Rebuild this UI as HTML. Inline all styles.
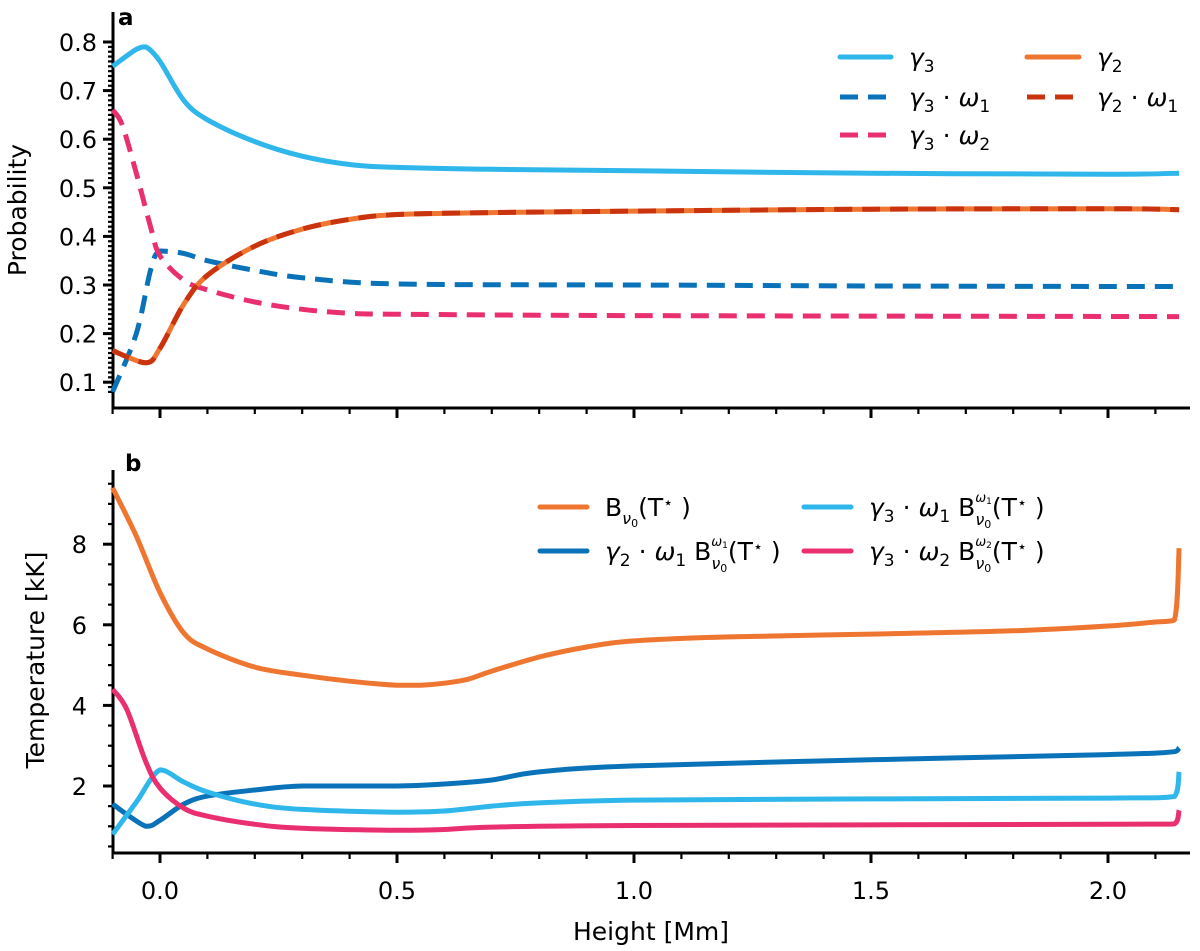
<!DOCTYPE html>
<html><head><meta charset="utf-8"><style>
body{margin:0;background:#fff}
svg{display:block;font-family:"DejaVu Sans","Liberation Sans",sans-serif}
</style></head><body>
<svg id="c" width="1200" height="951" viewBox="0 0 1200 951" xmlns="http://www.w3.org/2000/svg">
<g id="g"></g>
</svg>
<script>
// ---- data ----
const hA = [-0.1,-0.05,-0.03,0,0.05,0.1,0.2,0.3,0.4,0.5,0.7,1.0,1.5,2.0,2.15];
const gamma3 = [0.75,0.785,0.79,0.76,0.68,0.64,0.595,0.565,0.548,0.542,0.538,0.535,0.53,0.528,0.53];
const hB = [-0.1,-0.05,-0.02,0,0.05,0.1,0.2,0.3,0.5,1.0,1.5,2.0,2.15];
const g3w1 = [0.08,0.2,0.33,0.37,0.365,0.35,0.33,0.315,0.302,0.3,0.298,0.297,0.297];
const hC = [-0.1,-0.08,-0.05,-0.02,0,0.05,0.1,0.2,0.3,0.4,0.5,1.0,2.15];
const g3w2 = [0.66,0.63,0.53,0.42,0.36,0.31,0.29,0.265,0.25,0.242,0.24,0.237,0.235];
const hD = [-0.1,-0.03,0,0.05,0.1,0.2,0.3,0.4,0.5,0.7,1.0,1.5,2.0,2.15];
const gamma2 = [0.165,0.14,0.17,0.26,0.32,0.38,0.415,0.435,0.445,0.449,0.452,0.456,0.457,0.455];

const hE = [-0.1,-0.05,0,0.05,0.1,0.2,0.3,0.4,0.5,0.55,0.6,0.65,0.7,0.8,0.9,1.0,1.2,1.5,1.8,2.0,2.1,2.14,2.15];
const bT = [9.4,8.2,6.8,5.8,5.4,4.95,4.75,4.6,4.5,4.5,4.55,4.65,4.85,5.2,5.45,5.6,5.7,5.77,5.85,5.97,6.07,6.12,7.9];
const hF = [-0.1,-0.03,0,0.05,0.1,0.2,0.3,0.5,0.6,0.7,0.8,1.0,1.5,2.0,2.14,2.15];
const b21 = [1.55,1.0,1.15,1.55,1.75,1.9,2.0,2.0,2.05,2.15,2.35,2.5,2.65,2.78,2.85,2.95];
const hG = [-0.1,-0.05,0,0.05,0.1,0.2,0.3,0.5,0.6,0.7,0.8,1.0,1.5,2.0,2.14,2.15];
const b31 = [0.8,1.6,2.4,2.1,1.85,1.55,1.42,1.35,1.38,1.5,1.58,1.65,1.68,1.7,1.74,2.35];
const hH = [-0.1,-0.07,-0.03,0,0.05,0.1,0.2,0.3,0.5,0.6,0.7,1.0,2.0,2.14,2.15];
const b32 = [4.4,3.9,2.6,1.95,1.45,1.25,1.05,0.95,0.9,0.92,0.98,1.02,1.05,1.06,1.4];

const xTicks = [0.0,0.5,1.0,1.5,2.0];
const yTicksA = [0.1,0.2,0.3,0.4,0.5,0.6,0.7,0.8];
const yTicksB = [2,4,6,8];

// ---- axes ----
const X0=113, X1=1190;
const xs = h => 160 + h*474;
const ysA = p => 42 + (0.8-p)*486;
const ysB = t => 786 - (t-2)*40.3;
const AT=12, AB=408, BT=470, BB=853;

const NS="http://www.w3.org/2000/svg";
const g=document.getElementById('g');
function el(tag,attrs,parent){const e=document.createElementNS(NS,tag);for(const k in attrs)e.setAttribute(k,attrs[k]);(parent||g).appendChild(e);return e;}
function txt(s,x,y,attrs){const e=el('text',Object.assign({x:x,y:y,'font-size':24,fill:'#000'},attrs||{}));e.textContent=s;return e;}

function clamp(v,a,b){const lo=Math.min(a,b),hi=Math.max(a,b);return Math.min(Math.max(v,lo),hi);}
function path(xsArr,ysArr,ymap){
  const P=xsArr.map((h,i)=>[xs(h),ymap(ysArr[i])]);
  let d='M'+P[0][0].toFixed(1)+','+P[0][1].toFixed(1);
  for(let i=0;i<P.length-1;i++){
    const p0=P[Math.max(0,i-1)],p1=P[i],p2=P[i+1],p3=P[Math.min(P.length-1,i+2)];
    const t=1/6;
    const c1=[p1[0]+(p2[0]-p0[0])*t,p1[1]+(p2[1]-p0[1])*t];
    const c2=[p2[0]-(p3[0]-p1[0])*t,p2[1]-(p3[1]-p1[1])*t];
    c1[0]=clamp(c1[0],p1[0],p2[0]); c2[0]=clamp(c2[0],p1[0],p2[0]);
    c1[1]=clamp(c1[1],p1[1],p2[1]); c2[1]=clamp(c2[1],p1[1],p2[1]);
    d+=' C'+c1.map(v=>v.toFixed(1)).join(',')+' '+c2.map(v=>v.toFixed(1)).join(',')+' '+p2[0].toFixed(1)+','+p2[1].toFixed(1);
  }
  return d;
}

function xAxis(yb,labels){
  el('line',{x1:X0,y1:yb,x2:X1,y2:yb,stroke:'#000','stroke-width':3});
  for(let k=-1;k<=21;k++){const h=k/10;const x=xs(h);if(x>X1)break;
    const major=Math.abs(h*2-Math.round(h*2))<1e-6;
    el('line',{x1:x,y1:yb,x2:x,y2:yb+(major?10:6),stroke:'#000','stroke-width':major?3:2.2});}
  if(labels) xTicks.forEach(v=>{const t=txt(v.toFixed(1),xs(v),yb+46,{'text-anchor':'middle'});});
}
// panel a
el('line',{x1:X0,y1:AT,x2:X0,y2:AB,stroke:'#000','stroke-width':3});
for(let k=8;k<=80;k++){const v=k/100,y=ysA(v);if(y>AB-2||y<AT)continue;const major=k%10==0;
  el('line',{x1:X0,y1:y,x2:X0-(major?10:5),y2:y,stroke:'#000','stroke-width':major?3:2.2});}
yTicksA.forEach(v=>{const t=txt(v.toFixed(1),X0-16,ysA(v)+9,{'text-anchor':'end'});});
xAxis(AB,false);
txt('Probability',26,210,{'text-anchor':'middle',transform:'rotate(-90 26 210)','font-size':25});
txt('a',118,25,{'font-weight':'bold','font-size':23});

// panel b
el('line',{x1:X0,y1:BT,x2:X0,y2:BB,stroke:'#000','stroke-width':3});
for(let k=1;k<=19;k++){const v=k/2,y=ysB(v);if(y>BB-2||y<BT)continue;const major=k%4==0;
  el('line',{x1:X0,y1:y,x2:X0-(major?10:5),y2:y,stroke:'#000','stroke-width':major?3:2.2});}
yTicksB.forEach(v=>{const t=txt(String(v),X0-26,ysB(v)+9,{'text-anchor':'end'});});
xAxis(BB,true);
txt('Temperature [kK]',44,660,{'text-anchor':'middle',transform:'rotate(-90 44 660)','font-size':25});
txt('b',125,471,{'font-weight':'bold','font-size':23});
txt('Height [Mm]',651,940,{'text-anchor':'middle','font-size':25});

function series(xa,ya,ymap,color,dash,name){
  const a={d:path(xa,ya,ymap),fill:'none',stroke:color,'stroke-width':5,'stroke-linejoin':'round'};
  if(dash)a['stroke-dasharray']=dash;
  const p=el('path',a);
  
  
}
const cLB='#2fb6ea',cDB='#0a72b8',cPK='#ea2f70',cOR='#ef7631',cRD='#c9340f';
series(hA,gamma3,ysA,cLB,null,'line-gamma3');
series(hB,g3w1,ysA,cDB,'18,10','line-gamma3-omega1');
series(hC,g3w2,ysA,cPK,'18,10','line-gamma3-omega2');
series(hD,gamma2,ysA,cOR,null,'line-gamma2');
series(hD,gamma2,ysA,cRD,'18,10','line-gamma2-omega1');

series(hE,bT,ysB,cOR,null,'line-B');
series(hF,b21,ysB,cDB,null,'line-gamma2-omega1-B');
series(hG,b31,ysB,cLB,null,'line-gamma3-omega1-B');
series(hH,b32,ysB,cPK,null,'line-gamma3-omega2-B');

// legends
function leg(x1,x2,y,color,dash,parts,name){
  const a={x1:x1,y1:y,x2:x2,y2:y,stroke:color,'stroke-width':5,'stroke-linecap':dash?'butt':'round'};
  if(dash)a['stroke-dasharray']='18,10';
  const l=el('line',a);
  
  
  const t=el('text',{x:x2+18,y:y+9,'font-size':25,fill:'#000'});
  
  
  parts.forEach(p=>{const s=el('tspan',{},t);if(p.it)s.setAttribute('font-style','italic');if(p.dy)s.setAttribute('dy',p.dy);if(p.dx)s.setAttribute('dx',p.dx);if(p.fs)s.setAttribute('font-size',p.fs);s.textContent=p.s;});
}
const it=s=>({s:s,it:1}), sub=(s,d)=>({s:s,dy:d||6,fs:17}), n=(s,d)=>({s:s,dy:d||0});
leg(840,891,57,cLB,null,[it('γ'),sub('3')],'legend-gamma3');
leg(840,891,97,cDB,true,[it('γ'),sub('3'),n(' · ',-6),it('ω'),sub('1')],'legend-gamma3-omega1');
leg(840,891,135,cPK,true,[it('γ'),sub('3'),n(' · ',-6),it('ω'),sub('2')],'legend-gamma3-omega2');
leg(1027,1079,57,cOR,null,[it('γ'),sub('2')],'legend-gamma2');
leg(1027,1079,97,cRD,true,[it('γ'),sub('2'),n(' · ',-6),it('ω'),sub('1')],'legend-gamma2-omega1');

const Bsup=w=>[n(' B',-6),{s:'ν',dy:9,fs:16,it:1},{s:'0',dy:3,fs:11},{s:w[0],dx:-16,dy:-26,fs:13,it:1},{s:w[1],dy:2,fs:9},n('(T',12),{s:'⋆',dy:-8,fs:16},n(' )',8)];
leg(540,587,507,cOR,null,[n('B'),{s:'ν',dy:8,fs:16,it:1},{s:'0',dy:3,fs:11},n('(T',-11),{s:'⋆',dy:-8,fs:16},n(' )',8)],'legend-B');
leg(540,587,551,cDB,null,[it('γ'),sub('2'),n(' · ',-6),it('ω'),sub('1')].concat(Bsup('ω1')),'legend-gamma2-omega1-B');
leg(804,851,507,cLB,null,[it('γ'),sub('3'),n(' · ',-6),it('ω'),sub('1')].concat(Bsup('ω1')),'legend-gamma3-omega1-B');
leg(804,851,551,cPK,null,[it('γ'),sub('3'),n(' · ',-6),it('ω'),sub('2')].concat(Bsup('ω2')),'legend-gamma3-omega2-B');
</script>
</body></html>
